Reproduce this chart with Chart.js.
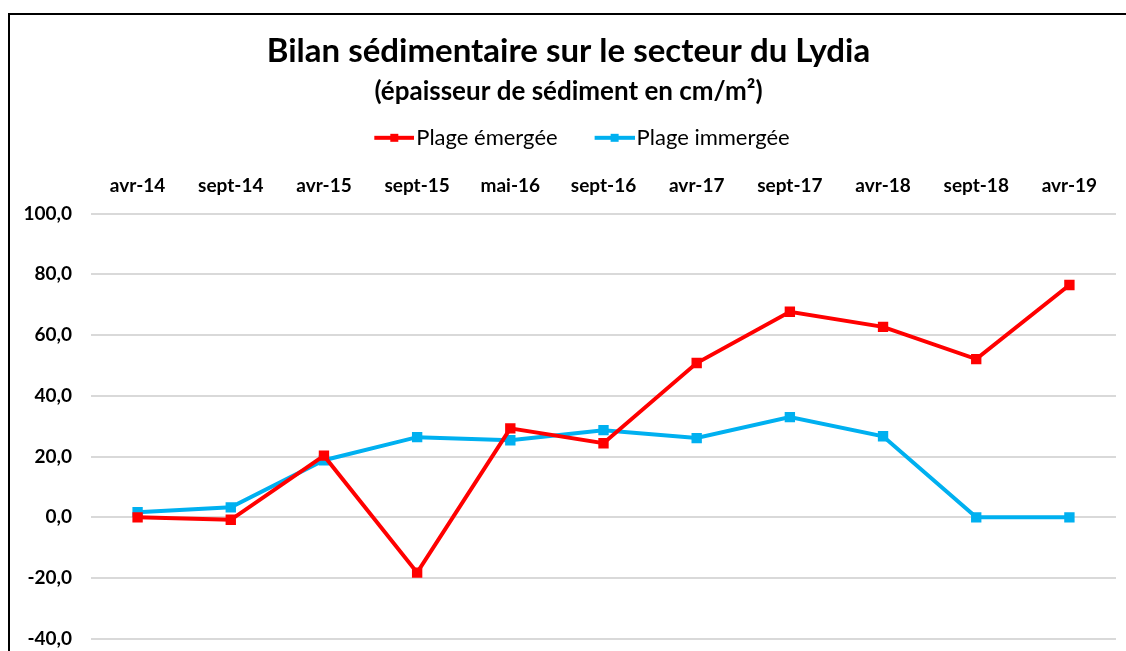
<!DOCTYPE html>
<html>
<head>
<meta charset="utf-8">
<script src="https://cdn.jsdelivr.net/npm/chart.js@4"></script>
<style>
  html, body { margin: 0; padding: 0; background: #fff; overflow: hidden; }
  #frame { position: absolute; left: 8px; top: 13px; width: 1300px; height: 900px; border: 2px solid #000; }
  #wrap { position: absolute; left: 0; top: 0; width: 1126px; height: 730px; }
</style>
</head>
<body>
<div id="frame"></div>
<div id="wrap"><canvas id="chart"></canvas></div>
<script>
'use strict';

const labels = ['avr-14', 'sept-14', 'avr-15', 'sept-15', 'mai-16', 'sept-16', 'avr-17', 'sept-17', 'avr-18', 'sept-18', 'avr-19'];
const emergee = [0.0, -0.8, 20.3, -18.2, 29.3, 24.4, 50.8, 67.7, 62.7, 52.1, 76.5];
const immergee = [1.7, 3.3, 18.8, 26.4, 25.4, 28.7, 26.1, 33.0, 26.7, 0.0, 0.0];
const yMin = -60, yMax = 100, yStep = 20;

const FONT = 'Lato, "Open Sans", sans-serif';

// line + square marker for the legend (Excel style); the blank left part
// of the image is what spaces the two entries apart
function legendIcon(color) {
  let c = document.createElement('canvas');
  c.width = 76; c.height = 12;
  let ctx = c.getContext('2d');
  ctx.strokeStyle = color;
  ctx.lineWidth = 4;
  ctx.beginPath();
  ctx.moveTo(36, 6); ctx.lineTo(76, 6);
  ctx.stroke();
  ctx.fillStyle = color;
  ctx.fillRect(52, 2, 8, 8);
  return c;
}

let red = '#ff0000';
let blue = '#00b0f0';

var chart = new Chart(document.getElementById('chart'), {
  type: 'line',
  data: {
    labels: labels,
    datasets: [{
      label: 'Plage émergée',
      data: emergee,
      borderColor: red,
      backgroundColor: red,
      borderWidth: 4,
      pointStyle: 'rect',
      pointRadius: 4.5,
      pointHoverRadius: 4.5,
      tension: 0
    }, {
      label: 'Plage immergée',
      data: immergee,
      borderColor: blue,
      backgroundColor: blue,
      borderWidth: 4,
      pointStyle: 'rect',
      pointRadius: 4.5,
      pointHoverRadius: 4.5,
      tension: 0
    }]
  },
  options: {
    responsive: true,
    maintainAspectRatio: false,
    animation: false,
    layout: { padding: { top: 32, left: 21, right: 10, bottom: 17 } },
    plugins: {
      title: {
        display: true,
        text: 'Bilan sédimentaire sur le secteur du Lydia',
        color: '#000',
        font: { family: FONT, size: 33, weight: 'bold' },
        padding: { top: 0, bottom: 4 }
      },
      subtitle: {
        display: true,
        text: '(épaisseur de sédiment en cm/m²)',
        color: '#000',
        font: { family: FONT, size: 26, weight: 'bold' },
        padding: { top: 0, bottom: 10 }
      },
      legend: {
        display: true,
        labels: {
          color: '#000',
          font: { family: FONT, size: 22 },
          usePointStyle: true,
          pointStyleWidth: 58,
          boxHeight: 12,
          padding: 10,
          generateLabels: (ch) => ch.data.datasets.map((ds, i) => ({
            text: ds.label,
            pointStyle: legendIcon(ds.borderColor),
            fillStyle: ds.borderColor,
            strokeStyle: ds.borderColor,
            lineWidth: 0,
            hidden: false,
            datasetIndex: i,
            fontColor: '#000'
          }))
        }
      },
      tooltip: { enabled: false }
    },
    scales: {
      x: {
        position: 'top',
        offset: true,
        grid: { display: false, drawTicks: false },
        border: { display: false },
        ticks: {
          color: '#000',
          font: { family: FONT, size: 19, weight: 'bold' },
          padding: 16,
          maxRotation: 0,
          autoSkip: false
        }
      },
      y: {
        min: yMin,
        max: yMax,
        grid: { color: '#d9d9d9', lineWidth: 2, drawTicks: false },
        border: { display: false },
        afterFit: (scale) => { scale.width = 70; },
        ticks: {
          stepSize: yStep,
          color: '#000',
          font: { family: FONT, size: 19, weight: 'bold' },
          padding: 19,
          callback: (v) => v.toFixed(1).replace('.', ',')
        }
      }
    }
  }
});
</script>
</body>
</html>
